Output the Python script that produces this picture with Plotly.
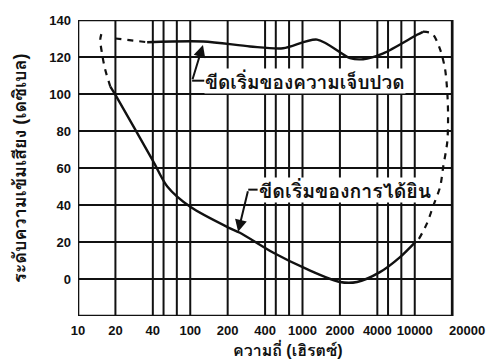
import numpy as np
import plotly.graph_objects as go

# ---- axis definition (frequency in Hz, level in dB) ----
tick_freqs = [10, 20, 40, 100, 200, 400, 1000, 2000, 4000, 10000, 20000]
tick_labels = ["10", "20", "40", "100", "200", "400", "1000", "2000", "4000", "10000", "20000"]
minor_grid_freqs = [52, 72, 520, 720, 5200, 7200]
db_ticks = [0, 20, 40, 60, 80, 100, 120, 140]

# ---- threshold of hearing (solid) ----
hear_freq = [18.2, 20, 40, 57, 100, 200, 251, 485, 1087, 2000, 2751, 4260, 6930, 10280]
hear_db = [104, 99.5, 64, 50, 39, 28, 25, 14.3, 5.3, -1.6, -1.6, 3.7, 11.7, 20.5]

# ---- threshold of pain (solid) ----
pain_freq = [36, 127, 303, 621, 1310, 2412, 3073, 4633, 10425, 11650]
pain_db = [128, 128.4, 125.7, 124.7, 129.4, 119.4, 118.8, 122, 132, 133.6]

# ---- dashed boundary, low-frequency side ----
left_dash_freq = [18.2, 16.5, 15.6, 15.1, 15.6]
left_dash_db = [104, 113.5, 122, 129.4, 133.7]
top_dash_freq = [20, 36]
top_dash_db = [130, 128]

# ---- dashed boundary, high-frequency side ----
right_dash_freq = [11650, 13850, 16020, 17530, 18280, 18540, 18280, 16930, 16020, 14050, 12570, 10650, 10280]
right_dash_db = [133.7, 132.6, 124, 113.5, 100.8, 88.6, 74.3, 60.5, 49.9, 39.3, 30.2, 21.2, 20.5]

LOG_T = np.log10(tick_freqs)
IDX = np.arange(len(tick_freqs))


def pos(f):
    """Chart's frequency scale: tick labels equally spaced, log interpolation between them."""
    return np.interp(np.log10(np.asarray(f, dtype=float)), LOG_T, IDX)


INK = "#111111"
FONT = "Liberation Sans, Noto Sans, Loma, Garuda, sans-serif"

fig = go.Figure()

line_solid = dict(color=INK, width=2.4, shape="spline", smoothing=0.8)
line_dash = dict(color=INK, width=2.2, dash="6px,6px", shape="spline", smoothing=0.8)

fig.add_trace(go.Scatter(x=pos(hear_freq), y=hear_db, mode="lines", line=line_solid, hoverinfo="skip"))
fig.add_trace(go.Scatter(x=pos(pain_freq), y=pain_db, mode="lines", line=line_solid, hoverinfo="skip"))
fig.add_trace(go.Scatter(x=pos(left_dash_freq), y=left_dash_db, mode="lines", line=line_dash, hoverinfo="skip"))
fig.add_trace(go.Scatter(x=pos(top_dash_freq), y=top_dash_db, mode="lines", line=line_dash, hoverinfo="skip"))
fig.add_trace(go.Scatter(x=pos(right_dash_freq), y=right_dash_db, mode="lines", line=line_dash, hoverinfo="skip"))

shapes = []
grid = dict(color=INK, width=2)
ymin, ymax = -20, 140
for f in list(tick_freqs) + minor_grid_freqs:
    p = float(pos(f))
    shapes.append(dict(type="line", xref="x", yref="y", x0=p, x1=p, y0=ymin, y1=ymax, line=grid, layer="below"))
for d in db_ticks:
    shapes.append(dict(type="line", xref="x", yref="y", x0=0, x1=float(pos(tick_freqs[-1])), y0=d, y1=d, line=grid, layer="below"))
shapes.append(dict(type="rect", xref="x", yref="y", x0=0, x1=float(pos(tick_freqs[-1])), y0=ymin, y1=ymax,
                   line=dict(color=INK, width=2.6), layer="below"))

# leader ticks before the labels
shapes.append(dict(type="line", xref="x", yref="y", x0=3.05, x1=3.38, y0=107.2, y1=107.2, line=dict(color=INK, width=2)))
shapes.append(dict(type="line", xref="x", yref="y", x0=4.55, x1=4.8, y0=48.3, y1=48.3, line=dict(color=INK, width=2)))

annotations = [
    dict(x=3.34, y=126.5, ax=3.05, ay=107.2, xref="x", yref="y", axref="x", ayref="y", text="",
         showarrow=True, arrowhead=2, arrowsize=1.2, arrowwidth=2, arrowcolor=INK),
    dict(x=4.28, y=25.5, ax=4.55, ay=48.3, xref="x", yref="y", axref="x", ayref="y", text="",
         showarrow=True, arrowhead=2, arrowsize=1.2, arrowwidth=2, arrowcolor=INK),
    dict(x=3.38, y=107.2, xref="x", yref="y", text="ขีดเริ่มของความเจ็บปวด", showarrow=False,
         xanchor="left", yanchor="middle", bgcolor="white", borderpad=0,
         font=dict(family=FONT, size=19, color=INK, weight="bold")),
    dict(x=4.8, y=48.3, xref="x", yref="y", text="ขีดเริ่มของการได้ยิน", showarrow=False,
         xanchor="left", yanchor="middle", bgcolor="white", borderpad=0,
         font=dict(family=FONT, size=19.5, color=INK, weight="bold")),
    dict(x=5.6, y=0, xref="x", yref="paper", yshift=-33, text="ความถี่ (เฮิรตซ์)", showarrow=False,
         xanchor="center", yanchor="middle", font=dict(family=FONT, size=16, color=INK, weight="bold")),
    dict(x=0, y=0.5, xref="paper", yref="paper", xshift=-58, text="ระดับความเข้มเสียง (เดซิเบล)", showarrow=False,
         textangle=-90, xanchor="center", yanchor="middle", font=dict(family=FONT, size=18, color=INK, weight="bold")),
]

x_tickvals = [float(v) for v in pos(tick_freqs[:-1])] + [float(pos(tick_freqs[-1])) + 0.4]

# the page body has an 8px default margin, so the figure is sized to fit inside the window
fig.update_layout(
    width=489, height=356,
    margin=dict(l=70, r=28, t=5, b=48),
    paper_bgcolor="white", plot_bgcolor="white",
    showlegend=False,
    shapes=shapes,
    annotations=annotations,
    xaxis=dict(range=[0, 10.45], showgrid=False, zeroline=False, showline=False,
               tickmode="array", tickvals=x_tickvals, ticktext=tick_labels, ticks="",
               tickfont=dict(family=FONT, size=13, color=INK, weight="bold"), ticklabelstandoff=5,
               ticklabeloverflow="allow", fixedrange=True),
    yaxis=dict(range=[ymin, ymax], showgrid=False, zeroline=False, showline=False,
               tickmode="array", tickvals=db_ticks, ticktext=[str(v) for v in db_ticks], ticks="",
               tickfont=dict(family=FONT, size=13, color=INK, weight="bold"), ticklabelstandoff=6,
               ticklabeloverflow="allow", fixedrange=True),
)

fig.write_html("out.html")
